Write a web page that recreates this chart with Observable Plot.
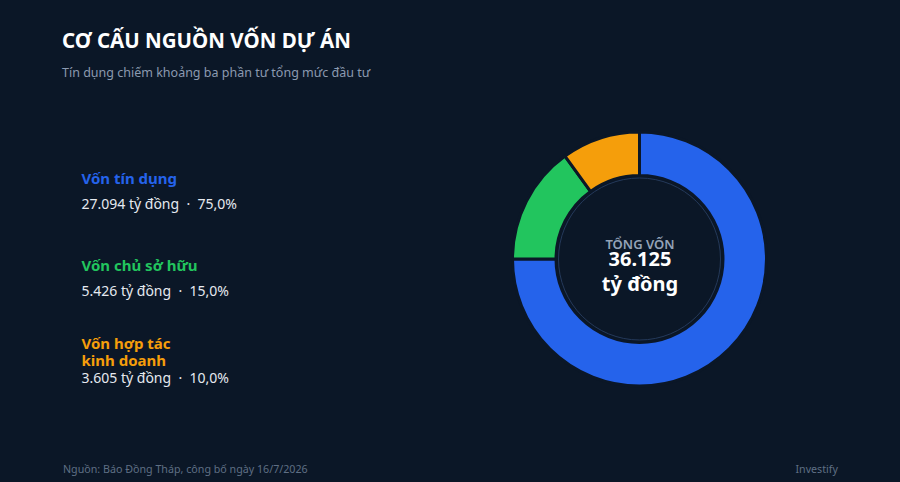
<!DOCTYPE html>
<html><head><meta charset="utf-8">
<script src="https://cdn.jsdelivr.net/npm/d3@7"></script>
<script src="https://cdn.jsdelivr.net/npm/@observablehq/plot@0.6"></script>
<style>
html,body{margin:0;padding:0;background:#0b1727;}
#wrap{position:relative;width:900px;height:482px;overflow:hidden;background:#0b1727;font-family:"Noto Sans",sans-serif;}
.t{position:absolute;white-space:nowrap;}
#title{left:62px;top:30px;font-size:20.5px;line-height:20px;font-weight:700;color:#ffffff;}
#sub{left:62px;top:65.5px;font-size:12.5px;line-height:13px;color:#8b9ab0;}
#src{left:63px;top:464px;font-size:10.7px;line-height:11px;color:#5f6f84;}
#brand{right:62px;top:464px;font-size:10.7px;line-height:11px;color:#5f6f84;}
#chart{position:absolute;left:0;top:90px;}
</style>
</head><body>
<div id="wrap">
  <div class="t" id="title">CƠ CẤU NGUỒN VỐN DỰ ÁN</div>
  <div class="t" id="sub">Tín dụng chiếm khoảng ba phần tư tổng mức đầu tư</div>
  <div id="chart"></div>
  <div class="t" id="src">Nguồn: Báo Đồng Tháp, công bố ngày 16/7/2026</div>
  <div class="t" id="brand">Investify</div>
</div>
<script>
// ---- data ----
const categories = ["Vốn tín dụng", "Vốn chủ sở hữu", "Vốn hợp tác\nkinh doanh"];
const amounts = [27094, 5426, 3605];          // tỷ đồng
const shares = [75.0, 15.0, 10.0];             // %
const colors = ["#2563eb", "#22c55e", "#f59e0b"];
const totalLabel = "TỔNG VỐN";
const totalValue = 36125;
const unit = "tỷ đồng";

const rows = categories.map((c, i) => ({category: c, amount: amounts[i], share: shares[i], color: colors[i], i}));
const fmtInt = v => d3.format(",")(v).replace(/,/g, ".");
const fmtPct = v => v.toFixed(1).replace(".", ",") + "%";

// ---- layout ----
const bg = "#0b1727";
const cx = 639.5, cy = 169, rOuter = 127, rInner = 83.5, rRing = 81;
const legendX = 81;
const valueY = i => 118 + i * 87;
const labelY = (d) => valueY(d.i) - 25 + (d.category.split("\n").length - 1) * 8;

const donut = (index, scales, values, dims, context) => {
  const g = d3.create("svg:g").attr("transform", `translate(${cx},${cy})`);
  const arcs = d3.pie().sort(null).value(d => d.amount)(rows);
  const arc = d3.arc().innerRadius(rInner).outerRadius(rOuter);
  g.selectAll("path").data(arcs).join("path")
    .attr("d", arc)
    .attr("fill", d => d.data.color)
    .attr("stroke", bg)
    .attr("stroke-width", 3);
  g.append("circle").attr("r", rRing).attr("fill", "none").attr("stroke", "#24395a").attr("stroke-width", 1);
  return g.node();
};

const center = [{}];
const chart = Plot.plot({
  width: 900, height: 360, margin: 0,
  x: {type: "identity", axis: null}, y: {type: "identity", axis: null}, color: {type: "identity"},
  style: {background: "transparent", fontFamily: '"Noto Sans", sans-serif', overflow: "visible"},
  marks: [
    donut,
    Plot.text(center, {x: cx, y: 158, text: () => totalLabel, fill: "#94a3b8", fontSize: 13, fontWeight: 600, lineAnchor: "bottom", textAnchor: "middle"}),
    Plot.text(center, {x: cx, y: 175, text: () => fmtInt(totalValue), fill: "#ffffff", fontSize: 20, fontWeight: 700, lineAnchor: "bottom", textAnchor: "middle"}),
    Plot.text(center, {x: cx, y: 200, text: () => unit, fill: "#ffffff", fontSize: 20, fontWeight: 700, lineAnchor: "bottom", textAnchor: "middle"}),
    Plot.text(rows, {x: legendX, y: labelY, text: "category", fill: "color", fontSize: 15, fontWeight: 700, lineAnchor: "bottom", textAnchor: "start", lineHeight: 17/15}),
    Plot.text(rows, {x: legendX, y: d => valueY(d.i), text: d => `${fmtInt(d.amount)} ${unit}  ·  ${fmtPct(d.share)}`, fill: "#e5e9f0", fontSize: 14, lineAnchor: "bottom", textAnchor: "start"})
  ]
});
document.getElementById("chart").appendChild(chart);
</script>
</body></html>
